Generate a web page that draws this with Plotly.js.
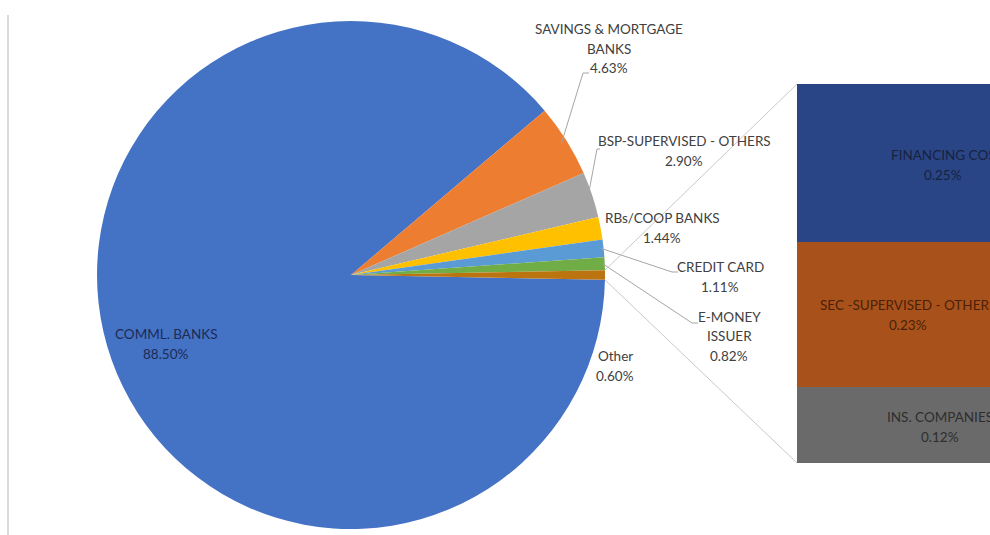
<!DOCTYPE html>
<html>
<head>
<meta charset="utf-8">
<script src="https://cdn.plot.ly/plotly-3.0.1.min.js"></script>
<style>
  html, body { margin: 0; padding: 0; background: #ffffff; }
  #chart { width: 990px; height: 535px; }
</style>
</head>
<body>
<div id="chart"></div>
<script>
// ---- Data ----
var pieLabels = ['COMML. BANKS', 'SAVINGS & MORTGAGE BANKS', 'BSP-SUPERVISED - OTHERS', 'RBs/COOP BANKS', 'CREDIT CARD', 'E-MONEY ISSUER', 'Other'];
var pieValues = [88.50, 4.63, 2.90, 1.44, 1.11, 0.82, 0.60];
var pieLabelLines = [['COMML. BANKS'], ['SAVINGS & MORTGAGE', 'BANKS'], ['BSP-SUPERVISED - OTHERS'], ['RBs/COOP BANKS'], ['CREDIT CARD'], ['E-MONEY', 'ISSUER'], ['Other']];

var barLabels = ['INS. COMPANIES', 'SEC -SUPERVISED - OTHERS', 'FINANCING COS'];
var barValues = [0.12, 0.23, 0.25];

// ---- Styles ----
var pieColors = ['#4472C4', '#ED7D31', '#A5A5A5', '#FFC000', '#5B9BD5', '#70AD47', '#BC7410'];
var barColors = ['#6a6a6a', '#A9511A', '#2a4585'];
var barTextColors = ['#2e2e2e', '#4a220a', '#16223f'];
var FONT = 'Lato, "Open Sans", sans-serif';
var FS = 13.5, LINE = 19.5;

var W = 990, H = 535;
var cx = 351, cy = 275, R = 254;          // pie geometry in pixels
var barLeft = 797, barTop = 84, barBottom = 463, barFullWidth = 286;

function px2x(p) { return p / W; }
function py2y(p) { return 1 - p / H; }

var total = pieValues.reduce(function (a, b) { return a + b; }, 0);
var otherDeg = pieValues[pieValues.length - 1] / total * 360;
var rotation = 90 + otherDeg / 2;

// angle (deg, clockwise from 12 o'clock) of slice boundaries
var bounds = [rotation];
pieValues.forEach(function (v, i) { bounds.push(bounds[i] + v / total * 360); });
function ptAt(angDeg, r) {
  var a = angDeg * Math.PI / 180;
  return [cx + r * Math.sin(a), cy - r * Math.cos(a)];
}
function midPt(i, r) { return ptAt((bounds[i] + bounds[i + 1]) / 2, r); }

var pieTrace = {
  type: 'pie',
  labels: pieLabels,
  values: pieValues,
  sort: false,
  direction: 'clockwise',
  rotation: rotation,
  marker: { colors: pieColors, line: { width: 0 } },
  textinfo: 'none',
  hoverinfo: 'label+percent',
  showlegend: false,
  domain: { x: [px2x(cx - R), px2x(cx + R)], y: [py2y(cy + R), py2y(cy - R)] }
};

var barTraces = barLabels.map(function (lab, i) {
  return {
    type: 'bar',
    x: [0],
    y: [barValues[i]],
    name: lab,
    width: 1,
    xaxis: 'x2',
    yaxis: 'y2',
    marker: { color: barColors[i], line: { width: 0 } },
    hoverinfo: 'name+y',
    showlegend: false
  };
});

var annotations = [];
function addBlock(lines, x, yCenter, color) {
  var n = lines.length;
  lines.forEach(function (t, k) {
    var y = yCenter + (k - (n - 1) / 2) * LINE;
    annotations.push({
      xref: 'paper', yref: 'paper', x: px2x(x), y: py2y(y),
      xanchor: 'center', yanchor: 'middle', align: 'center',
      text: t, showarrow: false,
      font: { family: FONT, size: FS, color: color || '#404040' }
    });
  });
}
function pct(v) { return v.toFixed(2) + '%'; }

// pie labels (block centres in px)
var pieLabelPos = [[166, 344], [609, 49], [684, 151], [662, 228], [720, 277], [729, 336], [615, 366]];
pieLabels.forEach(function (l, i) {
  addBlock(pieLabelLines[i].concat([pct(pieValues[i])]), pieLabelPos[i][0], pieLabelPos[i][1], i === 0 ? '#1d2b55' : '#404040');
});

// bar labels
var barLabelPos = [[940, 427], [908, 315], [943, 165]];
barLabels.forEach(function (l, i) {
  addBlock([l, pct(barValues[i])], barLabelPos[i][0], barLabelPos[i][1], barTextColors[i]);
});

// shapes: leader lines, connectors, left border
var shapes = [];
function pathShape(pts, color, w) {
  var d = pts.map(function (p, k) { return (k ? 'L' : 'M') + px2x(p[0]) + ',' + py2y(p[1]); }).join(' ');
  shapes.push({ type: 'path', xref: 'paper', yref: 'paper', path: d, line: { color: color, width: w } });
}
var leadColor = '#a6a6a6';
pathShape([midPt(1, R - 6), [583, 73], [589, 73]], leadColor, 1);
pathShape([midPt(2, R - 4), [597, 149], [600, 149]], leadColor, 1);
pathShape([midPt(4, R - 2), [672, 272], [678, 272]], leadColor, 1);
pathShape([midPt(5, R - 2), [692, 323], [698, 323]], leadColor, 1);

// connectors from the "Other" slice to the bar
var oTop = ptAt(rotation - otherDeg, R);
var oBot = ptAt(rotation, R);
pathShape([oTop, [barLeft, barTop]], '#c9c9c9', 1);
pathShape([oBot, [barLeft, barBottom]], '#c9c9c9', 1);

// left border line
pathShape([[8, 15], [8, 535]], '#cfcfcf', 1.5);

var layout = {
  width: W, height: H,
  margin: { l: 0, r: 0, t: 0, b: 0 },
  paper_bgcolor: '#ffffff',
  plot_bgcolor: 'rgba(0,0,0,0)',
  barmode: 'stack',
  bargap: 0,
  xaxis2: { domain: [px2x(barLeft), 1], range: [-0.5, -0.5 + (W - barLeft) / barFullWidth], visible: false, fixedrange: true, anchor: 'y2' },
  yaxis2: { domain: [py2y(barBottom), py2y(barTop)], range: [0, barValues.reduce(function (a, b) { return a + b; }, 0)], visible: false, fixedrange: true, anchor: 'x2' },
  annotations: annotations,
  shapes: shapes,
  font: { family: FONT, size: FS, color: '#404040' }
};

Plotly.newPlot('chart', [pieTrace].concat(barTraces), layout, { displayModeBar: false, staticPlot: true });
</script>
</body>
</html>
